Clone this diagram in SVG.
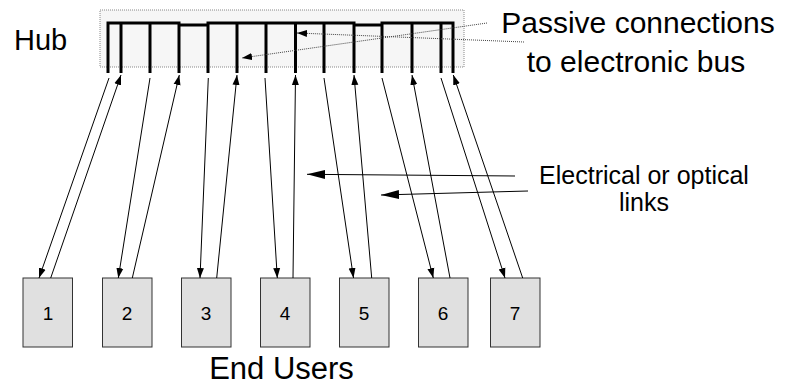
<svg xmlns="http://www.w3.org/2000/svg" width="785" height="385" viewBox="0 0 785 385">
<defs>
<style>
text{font-family:"Liberation Sans",Arial,sans-serif;fill:#000}
.user rect{fill:#e0e0e0;stroke:#333;stroke-width:1}
.user text{font-size:19px;text-anchor:middle}
.link{stroke:#000;stroke-width:1;fill:none;marker-end:url(#ah)}
.bus{stroke:#000;stroke-width:3;fill:none}
.lead{stroke:#000;stroke-width:1;fill:none;marker-end:url(#big)}
.dot{stroke:#444;stroke-width:1;stroke-dasharray:1 1;fill:none;marker-end:url(#sm)}
</style>
<marker id="ah" viewBox="0 0 10 10" refX="10" refY="5" markerWidth="10" markerHeight="10" markerUnits="userSpaceOnUse" orient="auto"><path d="M0,1.5 L10,5 L0,8.5 z" fill="#000"/></marker>
<marker id="big" viewBox="0 0 18 10" refX="18" refY="5" markerWidth="18" markerHeight="10" markerUnits="userSpaceOnUse" orient="auto"><path d="M0,0.5 L18,5 L0,9.5 z" fill="#000"/></marker>
<marker id="sm" viewBox="0 0 10 8" refX="10" refY="4" markerWidth="10" markerHeight="8" markerUnits="userSpaceOnUse" orient="auto"><path d="M0,0.5 L10,4 L0,7.5 z" fill="#000"/></marker>
</defs>
<g id="hub">
<rect x="100" y="10" width="364" height="57" fill="#f6f6f6" stroke="#888" stroke-width="1" stroke-dasharray="1 1"/>
<path class="bus" d="M108,73 V23 H179 V25 H208 V23 H354 V25 H382 V23 H453 V73 M121,23 V73 M150,23 V73 M179,25 V73 M208,25 V73 M237,23 V73 M266,23 V73 M295.5,23 V73 M324,23 V73 M354,25 V73 M382,25 V73 M412,23 V73 M441,23 V73"/>
<text x="14" y="50" font-size="29">Hub</text>
</g>
<g id="u1" class="user"><rect x="23" y="278" width="49.5" height="69"/><text x="48" y="320">1</text></g>
<g id="u2" class="user"><rect x="102.5" y="278" width="49.5" height="69"/><text x="127" y="320">2</text></g>
<g id="u3" class="user"><rect x="181.5" y="278" width="49.5" height="69"/><text x="206" y="320">3</text></g>
<g id="u4" class="user"><rect x="260.5" y="278" width="49.5" height="69"/><text x="285" y="320">4</text></g>
<g id="u5" class="user"><rect x="339.5" y="278" width="49.5" height="69"/><text x="364" y="320">5</text></g>
<g id="u6" class="user"><rect x="418.5" y="278" width="49.5" height="69"/><text x="443" y="320">6</text></g>
<g id="u7" class="user"><rect x="490.5" y="278" width="49.5" height="69"/><text x="515" y="320">7</text></g>
<g id="connectors">
<line class="link" x1="109" y1="78" x2="39" y2="278"/>
<line class="link" x1="50.7" y1="278" x2="121" y2="75"/>
<line class="link" x1="150" y1="78" x2="118.3" y2="278"/>
<line class="link" x1="132.3" y1="278" x2="179.3" y2="75"/>
<line class="link" x1="208.3" y1="78" x2="200" y2="278"/>
<line class="link" x1="216.7" y1="278" x2="237" y2="75"/>
<line class="link" x1="265" y1="78" x2="277.3" y2="278"/>
<line class="link" x1="293" y1="278" x2="295.5" y2="75"/>
<line class="link" x1="324" y1="78" x2="353.5" y2="278"/>
<line class="link" x1="371.7" y1="278" x2="354" y2="75"/>
<line class="link" x1="382" y1="78" x2="433.3" y2="278"/>
<line class="link" x1="450" y1="278" x2="412" y2="75"/>
<line class="link" x1="441" y1="78" x2="505" y2="278"/>
<line class="link" x1="522.7" y1="278" x2="453.3" y2="75"/>
<line class="dot" x1="487" y1="23" x2="242" y2="58"/>
<line class="dot" x1="524" y1="42" x2="297" y2="33"/>
<line class="lead" x1="515" y1="176" x2="307" y2="174.3"/>
<line class="lead" x1="528" y1="191" x2="381" y2="195"/>
</g>
<g id="labels">
<text x="638" y="33" font-size="30" text-anchor="middle">Passive connections</text>
<text x="636" y="72" font-size="30" text-anchor="middle">to electronic bus</text>
<text x="644" y="184" font-size="25" text-anchor="middle">Electrical or optical</text>
<text x="644" y="211" font-size="25" text-anchor="middle">links</text>
<text x="281.5" y="379" font-size="31" text-anchor="middle">End Users</text>
</g>
</svg>
